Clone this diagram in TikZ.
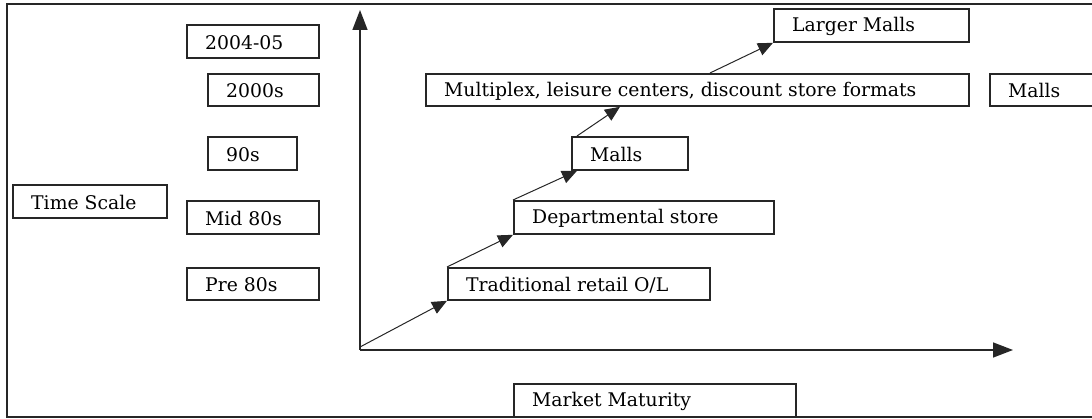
\documentclass[tikz,border=0pt]{standalone}
\usepackage{fontspec}
\setmainfont{DejaVu Serif}
\usetikzlibrary{arrows.meta}
\begin{document}
\begin{tikzpicture}[x=1pt,y=-1pt,
  box/.style={draw=black!85,line width=1.8pt,rectangle,anchor=north west,inner sep=0pt},
  lbl/.style={anchor=west,inner sep=0pt,xshift=19pt,yshift=-1pt,font=\fontsize{18.8}{22}\selectfont},
  step arrow/.style={draw=black!85,line width=1pt,-{Triangle[length=15pt,width=13pt]}},
  axis arrow/.style={draw=black!85,line width=1.5pt,-{Triangle[length=20pt,width=15pt]}}]
\useasboundingbox (0,0) rectangle (1092,419);
% frame
\draw[black!85,line width=1.4pt] (1092,4) -- (7,4) -- (7,417) -- (1092,417);
% boxes
\newcommand\tlbox[6]{%
  \node[box,minimum width=#4pt,minimum height=#5pt,
        label={[lbl]west:#6}] (#1) at (#2,#3) {};}
\tlbox{y2004}{186}{24}{132}{33}{2004-05}
\tlbox{y2000}{207}{73}{111}{32}{2000s}
\tlbox{y90}{207}{136}{89}{33}{90s}
\tlbox{ts}{12}{184}{154}{33}{Time Scale}
\tlbox{mid80}{186}{200}{132}{33}{Mid 80s}
\tlbox{pre80}{186}{267}{132}{32}{Pre 80s}
\tlbox{trad}{447}{267}{262}{32}{Traditional retail O/L}
\tlbox{dept}{513}{200}{260}{33}{Departmental store}
\tlbox{malls}{571}{136}{116}{33}{Malls}
\tlbox{multi}{425}{73}{543}{32}{Multiplex, leisure centers, discount store formats}
\tlbox{larger}{773}{8}{195}{33}{Larger Malls}
\tlbox{mallsR}{989}{73}{120}{32}{Malls}
\tlbox{mm}{513}{383}{282}{33}{Market Maturity}
% axes
\coordinate (O) at (360,347);
\coordinate (A) at (360,350);
\coordinate (YT) at (360,10);
\coordinate (XT) at (1013,350);
\draw[axis arrow] (A) -- (YT);
\draw[axis arrow] (A) -- (XT);
% steps
\draw[step arrow] (O) -- (trad.south west);
\draw[step arrow] (trad.north west) -- (dept.south west);
\draw[step arrow] (dept.north west) -- ([xshift=6pt]malls.south west);
\draw[step arrow] ([xshift=6pt]malls.north west) -- ([xshift=195pt]multi.south west);
\draw[step arrow] ([xshift=285pt]multi.north west) -- (larger.south west);
\end{tikzpicture}
\end{document}
